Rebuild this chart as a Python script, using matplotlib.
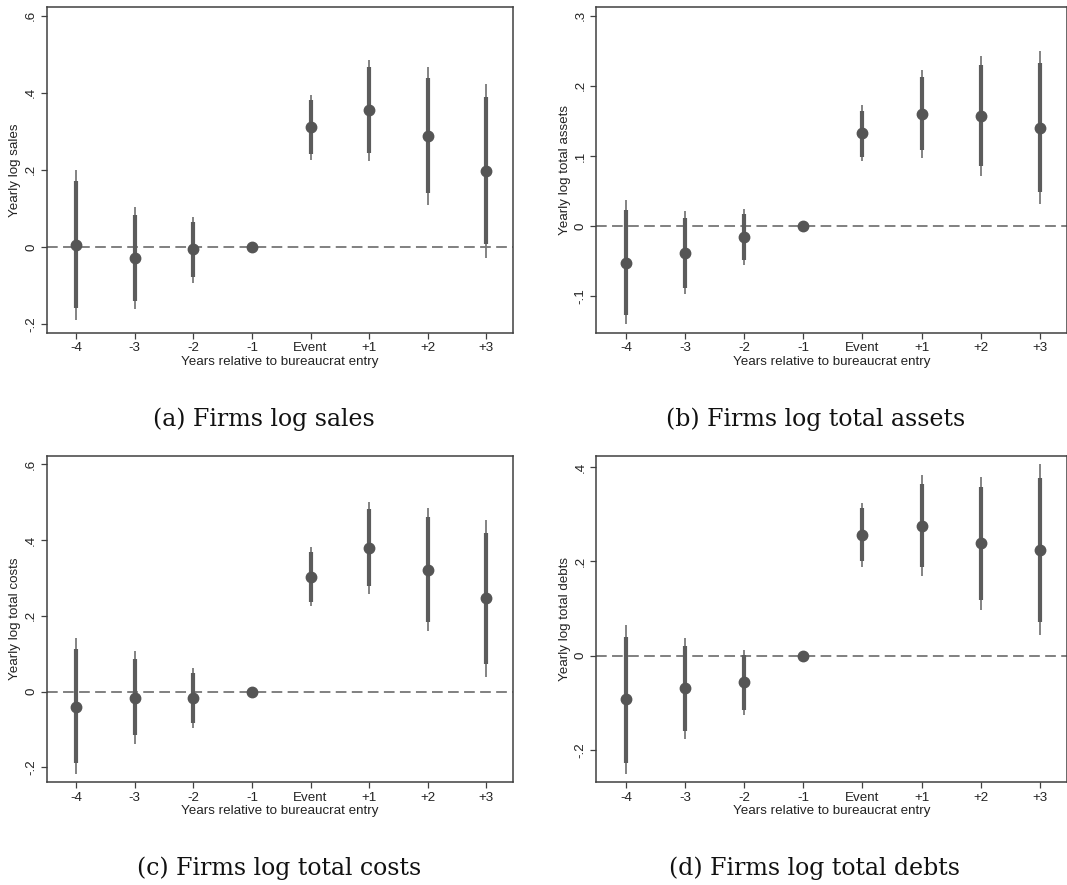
import numpy as np
import matplotlib
matplotlib.use("Agg")
import matplotlib.pyplot as plt

# ------------------------------------------------------------
# Event-study estimates
# ------------------------------------------------------------
periods = ["-4", "-3", "-2", "-1", "Event", "+1", "+2", "+3"]

# (a) log sales
sales_coef = [0.006, -0.029, -0.006, 0.0, 0.310, 0.354, 0.287, 0.197]
sales_lo90 = [-0.157, -0.140, -0.078, 0.0, 0.240, 0.244, 0.139, 0.007]
sales_hi90 = [0.171, 0.082, 0.065, 0.0, 0.382, 0.466, 0.438, 0.388]
sales_lo95 = [-0.189, -0.161, -0.092, 0.0, 0.227, 0.222, 0.109, -0.029]
sales_hi95 = [0.201, 0.103, 0.078, 0.0, 0.395, 0.485, 0.466, 0.423]

# (b) log total assets
assets_coef = [-0.052, -0.038, -0.016, 0.0, 0.132, 0.160, 0.157, 0.140]
assets_lo90 = [-0.126, -0.088, -0.049, 0.0, 0.099, 0.108, 0.085, 0.048]
assets_hi90 = [0.023, 0.012, 0.017, 0.0, 0.164, 0.212, 0.229, 0.232]
assets_lo95 = [-0.140, -0.097, -0.055, 0.0, 0.092, 0.097, 0.072, 0.031]
assets_hi95 = [0.037, 0.022, 0.024, 0.0, 0.172, 0.223, 0.243, 0.250]

# (c) log total costs
costs_coef = [-0.040, -0.016, -0.018, 0.0, 0.303, 0.379, 0.322, 0.246]
costs_lo90 = [-0.188, -0.116, -0.084, 0.0, 0.236, 0.278, 0.185, 0.072]
costs_hi90 = [0.112, 0.086, 0.050, 0.0, 0.370, 0.483, 0.460, 0.420]
costs_lo95 = [-0.218, -0.138, -0.096, 0.0, 0.225, 0.257, 0.159, 0.038]
costs_hi95 = [0.141, 0.107, 0.063, 0.0, 0.383, 0.502, 0.486, 0.454]

# (d) log total debts
debts_coef = [-0.093, -0.069, -0.057, 0.0, 0.256, 0.276, 0.238, 0.225]
debts_lo90 = [-0.227, -0.159, -0.115, 0.0, 0.200, 0.187, 0.118, 0.072]
debts_hi90 = [0.040, 0.021, 0.001, 0.0, 0.313, 0.365, 0.358, 0.377]
debts_lo95 = [-0.252, -0.176, -0.127, 0.0, 0.189, 0.169, 0.096, 0.044]
debts_hi95 = [0.065, 0.037, 0.012, 0.0, 0.324, 0.383, 0.380, 0.407]

panels = [
    dict(rect=[0.044, 0.624, 0.437, 0.368], ylabel="Yearly log sales",
         caption="(a) Firms log sales", cap_xy=(0.247, 0.526),
         coef=sales_coef, lo90=sales_lo90, hi90=sales_hi90, lo95=sales_lo95, hi95=sales_hi95,
         yticks=[-0.2, 0, 0.2, 0.4, 0.6], ylim=(-0.222, 0.622)),
    dict(rect=[0.559, 0.624, 0.441, 0.368], ylabel="Yearly log total assets",
         caption="(b) Firms log total assets", cap_xy=(0.764, 0.526),
         coef=assets_coef, lo90=assets_lo90, hi90=assets_hi90, lo95=assets_lo95, hi95=assets_hi95,
         yticks=[-0.1, 0, 0.1, 0.2, 0.3], ylim=(-0.152, 0.312)),
    dict(rect=[0.044, 0.116, 0.437, 0.369], ylabel="Yearly log total costs",
         caption="(c) Firms log total costs", cap_xy=(0.262, 0.019),
         coef=costs_coef, lo90=costs_lo90, hi90=costs_hi90, lo95=costs_lo95, hi95=costs_hi95,
         yticks=[-0.2, 0, 0.2, 0.4, 0.6], ylim=(-0.240, 0.623)),
    dict(rect=[0.559, 0.116, 0.441, 0.369], ylabel="Yearly log total debts",
         caption="(d) Firms log total debts", cap_xy=(0.763, 0.019),
         coef=debts_coef, lo90=debts_lo90, hi90=debts_hi90, lo95=debts_lo95, hi95=debts_hi95,
         yticks=[-0.2, 0, 0.2, 0.4], ylim=(-0.269, 0.424)),
]


def stata_label(v):
    # Stata style: .2, -.2, 0
    if abs(v) < 1e-9:
        return "0"
    s = f"{v:g}"
    return s.replace("0.", ".")


plt.rcParams['font.family'] = ['Liberation Sans', 'DejaVu Sans']

fig = plt.figure(figsize=(10.67, 8.85), dpi=100)
x = np.arange(len(periods))
spine_col = '#404040'

for p in panels:
    ax = fig.add_axes(p['rect'])
    coef = np.array(p['coef'])
    ax.axhline(0, color='#5e5e5e', linestyle=(0, (7, 3.5)), linewidth=1.1, zorder=1)
    ax.vlines(x, p['lo95'], p['hi95'], color='#7a7a7a', linewidth=1.3, zorder=2)
    ax.vlines(x, p['lo90'], p['hi90'], color='#5c5c5c', linewidth=3.0, zorder=3)
    ax.plot(x, coef, 'o', color='#555555', markersize=7.5, zorder=4)

    ax.set_xlim(-0.5, 7.46)
    ax.set_ylim(*p['ylim'])
    ax.set_xticks(x)
    ax.set_xticklabels(periods, fontsize=9.6)
    ax.set_yticks(p['yticks'])
    ax.set_yticklabels([stata_label(v) for v in p['yticks']], fontsize=9.6,
                       rotation=90, va='center')
    ax.set_xlabel("Years relative to bureaucrat entry", fontsize=9.6, labelpad=1, color='#222222')
    ax.set_ylabel(p['ylabel'], fontsize=9.6, labelpad=3, color='#222222')
    ax.tick_params(axis='both', length=4, width=0.9, color=spine_col, pad=3,
                   labelcolor='#222222')
    for s in ax.spines.values():
        s.set_color(spine_col)
        s.set_linewidth(1.1)

    fig.text(p['cap_xy'][0], p['cap_xy'][1], p['caption'], ha='center', va='center',
             fontsize=17, family='DejaVu Serif', color='#111111')

fig.savefig('out.png', dpi=100, facecolor='white')
